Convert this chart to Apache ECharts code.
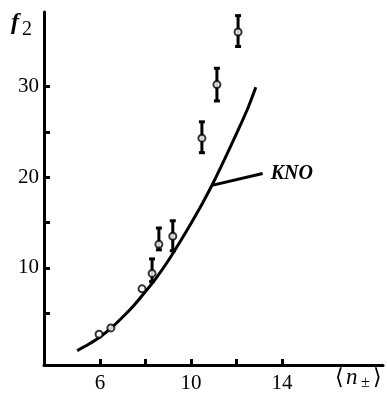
<!DOCTYPE html>
<html>
<head>
<meta charset="utf-8">
<script src="https://cdn.jsdelivr.net/npm/echarts@6/dist/echarts.min.js"></script>
<style>
  html, body { margin: 0; padding: 0; background: #fff; }
  #chart { width: 387px; height: 393px; }
</style>
</head>
<body>
<div id="chart"></div>
<script>
// measured points: [<n>, f2]
const measured = [
  [5.96, 2.7], [6.48, 3.4], [7.85, 7.7], [8.29, 9.4], [8.59, 12.6],
  [9.2, 13.5], [10.48, 24.3], [11.14, 30.2], [12.07, 36.0]
];
// error bars: [<n>, low, high]
const errors = [
  [8.29, 8.5, 11.0], [8.59, 12.0, 14.4], [9.2, 11.9, 15.2],
  [10.48, 22.7, 26.1], [11.14, 28.4, 32.0], [12.07, 34.4, 37.8]
];
const knoCurve = [
  [5.0, 0.9], [5.5, 1.6], [6.0, 2.4], [6.5, 3.4], [7.0, 4.6], [7.5, 5.9],
  [8.0, 7.4], [8.5, 9.0], [9.0, 10.8], [9.5, 12.8], [10.0, 14.9],
  [10.5, 17.1], [11.0, 19.5], [11.5, 22.1], [12.0, 24.8], [12.5, 27.6],
  [12.85, 29.9]
];
const knoPointer = [[10.92, 19.1], [13.15, 20.4]];

const xTicks = [6, 8, 10, 12, 14];
const xLabels = [6, 10, 14];
const yTicks = [5, 10, 15, 20, 25, 30];
const yLabels = [10, 20, 30];

const serif = '"Liberation Serif", "DejaVu Serif", serif';

function txt(text, left, top, size, italic, bold) {
  return {
    type: 'text', left: left, top: top,
    style: {
      text: text,
      fill: '#000',
      font: (italic ? 'italic ' : '') + (bold ? 'bold ' : '') + size + 'px ' + serif
    }
  };
}

let chart = echarts.init(document.getElementById('chart'));
chart.setOption({
  animation: false,
  grid: { left: 44, right: 4, top: 12, bottom: 28, outerBoundsMode: 'none' },
  xAxis: {
    type: 'value',
    min: 3.54,
    max: 18.44,
    splitLine: { show: false },
    axisLine: { onZero: false, lineStyle: { color: '#000', width: 3 } },
    axisTick: { inside: true, length: 6, lineStyle: { color: '#000', width: 3 }, customValues: xTicks },
    axisLabel: { customValues: xLabels, margin: 8, color: '#000', fontFamily: serif, fontSize: 21 }
  },
  yAxis: {
    type: 'value',
    min: -0.69,
    max: 38.2,
    splitLine: { show: false },
    axisLine: { onZero: false, lineStyle: { color: '#000', width: 3 } },
    axisTick: { inside: true, length: 6, lineStyle: { color: '#000', width: 3 }, customValues: yTicks },
    axisLabel: { customValues: yLabels, margin: 5, color: '#000', fontFamily: serif, fontSize: 21 }
  },
  graphic: [
    // y axis name f2
    txt('f', 11, 11, 24, true, true),
    txt('2', 22, 20, 20, false, false),
    // x axis name <n+->
    txt('⟨', 335, 367, 22, false, false),
    txt('n', 346, 366, 23, true, false),
    txt('±', 361, 375, 16, false, false),
    txt('⟩', 373, 367, 22, false, false)
  ],
  series: [
    {
      type: 'line',
      data: knoCurve,
      smooth: 0.3,
      showSymbol: false,
      lineStyle: { color: '#000', width: 3 },
      z: 2
    },
    {
      type: 'line',
      data: knoPointer,
      showSymbol: false,
      lineStyle: { color: '#000', width: 3 },
      endLabel: {
        show: true,
        formatter: 'KNO',
        color: '#000',
        fontFamily: serif,
        fontSize: 20,
        fontStyle: 'italic',
        fontWeight: 'bold',
        distance: 8
      },
      z: 2
    },
    {
      type: 'custom',
      data: errors,
      renderItem: function (params, api) {
        let top = api.coord([api.value(0), api.value(2)]);
        let bottom = api.coord([api.value(0), api.value(1)]);
        let style = { stroke: '#000', lineWidth: 3 };
        return {
          type: 'group',
          children: [
            { type: 'line', shape: { x1: top[0], y1: top[1], x2: bottom[0], y2: bottom[1] }, style: style },
            { type: 'line', shape: { x1: top[0] - 3, y1: top[1], x2: top[0] + 3, y2: top[1] }, style: style },
            { type: 'line', shape: { x1: bottom[0] - 3, y1: bottom[1], x2: bottom[0] + 3, y2: bottom[1] }, style: style }
          ]
        };
      },
      z: 3
    },
    {
      type: 'scatter',
      data: measured,
      symbol: 'circle',
      symbolSize: 7,
      itemStyle: { color: '#fff', borderColor: '#000', borderWidth: 2 },
      z: 4
    }
  ]
});
</script>
</body>
</html>
